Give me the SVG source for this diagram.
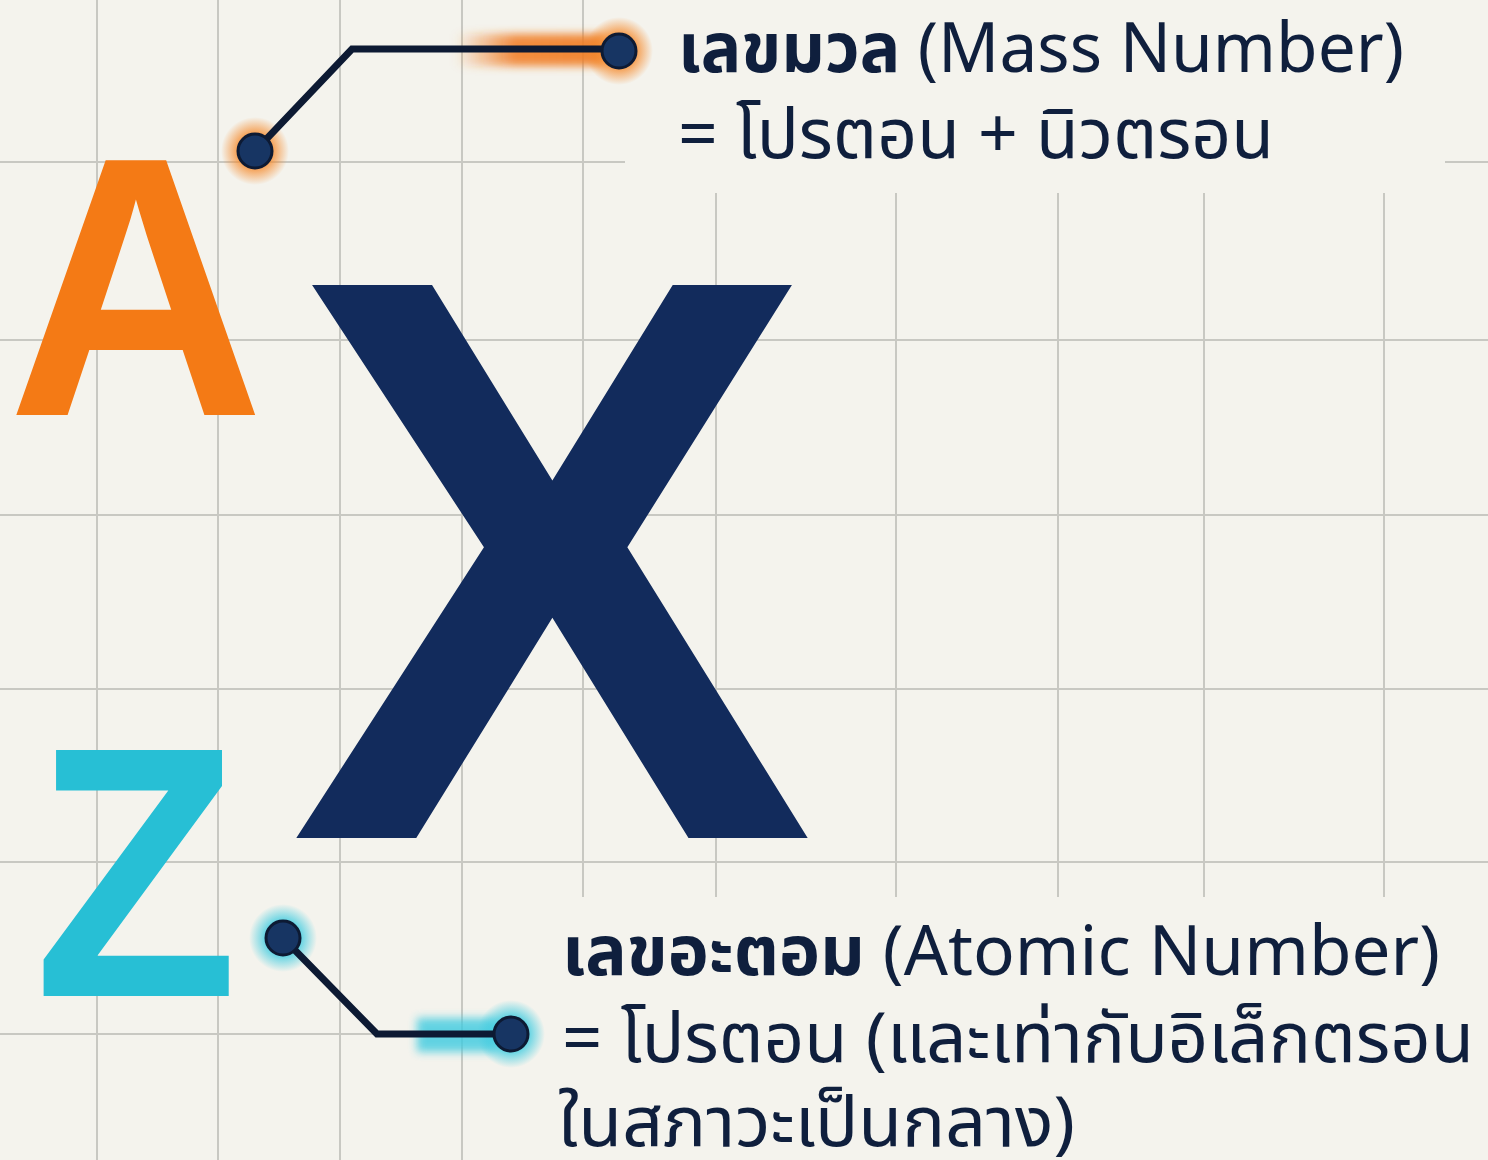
<svg xmlns="http://www.w3.org/2000/svg" width="1488" height="1160" viewBox="0 0 1488 1160">
  <defs>
    <style>
      .grid line { stroke: #c8c8c2; stroke-width: 2; }
      .big { font-family: "Liberation Sans", Arial, sans-serif; font-weight: bold; text-anchor: middle; }
      .lbl { font-family: "Noto Sans", "Noto Sans Thai", sans-serif; font-size: 70px; fill: #0f1f3d; }
      .lbl .b { font-weight: bold; }
      .wire { fill: none; stroke: #0d1a33; stroke-width: 7; stroke-linejoin: miter; }
      .dot { fill: #173563; stroke: #0d1a33; stroke-width: 3; }
    </style>
    <radialGradient id="glowO">
      <stop offset="0.45" stop-color="#f58a2c" stop-opacity="0.9"/>
      <stop offset="1" stop-color="#f58a2c" stop-opacity="0"/>
    </radialGradient>
    <radialGradient id="glowC">
      <stop offset="0.45" stop-color="#3ccbe0" stop-opacity="0.9"/>
      <stop offset="1" stop-color="#3ccbe0" stop-opacity="0"/>
    </radialGradient>
    <linearGradient id="barO" x1="0" x2="1" y1="0" y2="0">
      <stop offset="0" stop-color="#f07a20" stop-opacity="0"/>
      <stop offset="0.4" stop-color="#f07a20" stop-opacity="0.85"/>
      <stop offset="1" stop-color="#f07a20" stop-opacity="0.9"/>
    </linearGradient>
    <filter id="soft" x="-30%" y="-60%" width="160%" height="220%">
      <feGaussianBlur stdDeviation="4"/>
    </filter>
  </defs>

  <rect width="1488" height="1160" fill="#f4f3ed"/>

  <g class="grid">
    <line x1="97" y1="0" x2="97" y2="1160"/>
    <line x1="218" y1="0" x2="218" y2="1160"/>
    <line x1="340" y1="0" x2="340" y2="1160"/>
    <line x1="462" y1="0" x2="462" y2="1160"/>
    <line x1="583" y1="0" x2="583" y2="897"/>
    <line x1="716" y1="193" x2="716" y2="897"/>
    <line x1="896" y1="193" x2="896" y2="897"/>
    <line x1="1058" y1="193" x2="1058" y2="897"/>
    <line x1="1204" y1="193" x2="1204" y2="897"/>
    <line x1="1384" y1="193" x2="1384" y2="897"/>
    <line x1="0" y1="162" x2="625" y2="162"/>
    <line x1="1445" y1="162" x2="1488" y2="162"/>
    <line x1="0" y1="340" x2="1488" y2="340"/>
    <line x1="0" y1="515" x2="1488" y2="515"/>
    <line x1="0" y1="689" x2="1488" y2="689"/>
    <line x1="0" y1="862" x2="1488" y2="862"/>
    <line x1="0" y1="1034" x2="380" y2="1034"/>
  </g>

  <g id="symbol-A">
    <text class="big" transform="translate(136 415) scale(1 1.04)" font-size="356" fill="#f47a15">A</text>
  </g>
  <g id="symbol-X">
    <text class="big" transform="translate(552 838) scale(1.02 1.041)" font-size="772" fill="#122b5c">X</text>
  </g>
  <g id="symbol-Z">
    <text class="big" transform="translate(136 996) scale(0.98 1.045)" font-size="342" fill="#27bfd5">Z</text>
  </g>

  <g id="connectors">
    <rect x="455" y="34" width="150" height="32" fill="url(#barO)" filter="url(#soft)"/>
    <rect x="417" y="1018" width="80" height="34" fill="#3ccbe0" opacity="0.8" filter="url(#soft)"/>
    <circle cx="255" cy="151" r="34" fill="url(#glowO)"/>
    <circle cx="619" cy="51" r="34" fill="url(#glowO)"/>
    <circle cx="283" cy="938" r="34" fill="url(#glowC)"/>
    <circle cx="511" cy="1034" r="34" fill="url(#glowC)"/>
    <path class="wire" d="M255 151 L352 49 L619 49"/>
    <path class="wire" d="M283 938 L377 1034 L511 1034"/>
    <circle class="dot" cx="255" cy="151" r="17"/>
    <circle class="dot" cx="619" cy="51" r="17"/>
    <circle class="dot" cx="283" cy="938" r="17"/>
    <circle class="dot" cx="511" cy="1034" r="17"/>
  </g>

  <g id="label-mass">
    <text class="lbl" x="678" y="72" textLength="726" lengthAdjust="spacingAndGlyphs"><tspan class="b">เลขมวล</tspan> (Mass Number)</text>
    <text class="lbl" x="678" y="158" textLength="596" lengthAdjust="spacingAndGlyphs">= โปรตอน + นิวตรอน</text>
  </g>

  <g id="label-atomic">
    <text class="lbl" x="562" y="975" textLength="878" lengthAdjust="spacingAndGlyphs"><tspan class="b">เลขอะตอม</tspan> (Atomic Number)</text>
    <text class="lbl" x="562" y="1062" textLength="912" lengthAdjust="spacingAndGlyphs">= โปรตอน (และเท่ากับอิเล็กตรอน</text>
    <text class="lbl" x="558" y="1146" textLength="517" lengthAdjust="spacingAndGlyphs">ในสภาวะเป็นกลาง)</text>
  </g>
</svg>
